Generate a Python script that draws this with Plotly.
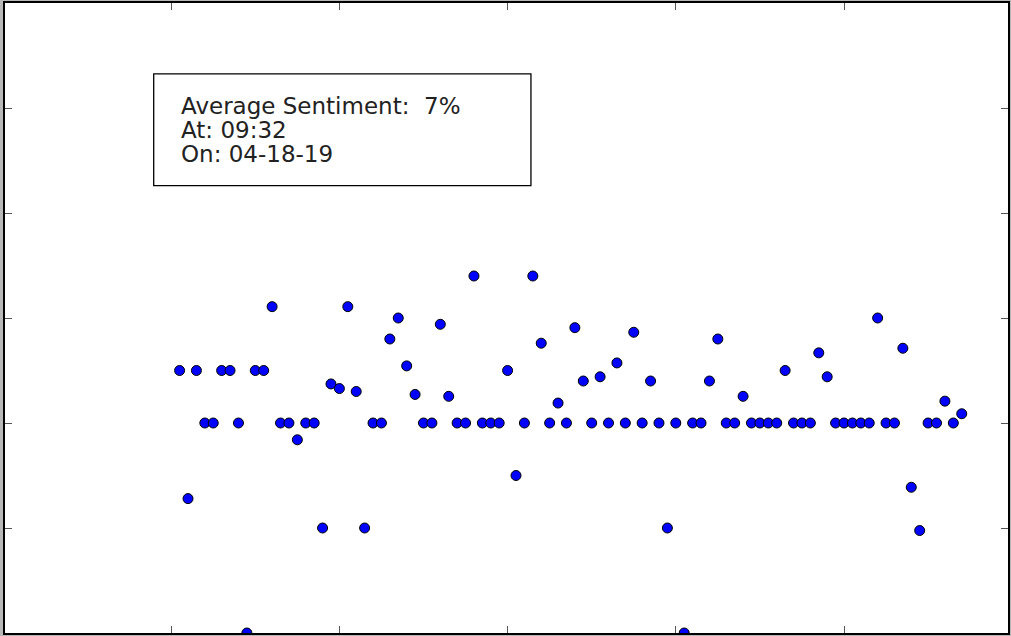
import plotly.graph_objects as go

# ---- data ----
sentiment = [
    0.125, -0.18, 0.125, 0, 0, 0.125, 0.125, 0, -0.5, 0.125,
    0.125, 0.277, 0, 0, -0.04, 0, 0, -0.25, 0.093, 0.082,
    0.277, 0.075, -0.25, 0, 0, 0.2, 0.25, 0.136, 0.068, 0,
    0, 0.235, 0.0635, 0, 0, 0.35, 0, 0, 0, 0.125,
    -0.125, 0, 0.35, 0.19, 0, 0.0475, 0, 0.227, 0.1, 0,
    0.11, 0, 0.143, 0, 0.216, 0, 0.1, 0, -0.25, 0,
    -0.5, 0, 0, 0.1, 0.2, 0, 0, 0.0635, 0, 0,
    0, 0, 0.125, 0, 0, 0, 0.167, 0.11, 0, 0,
    0, 0, 0, 0.25, 0, 0, 0.178, -0.153, -0.256, 0,
    0, 0.052, 0, 0.022,
]
tweet_index = list(range(1, len(sentiment) + 1))

info_lines = ["Average Sentiment:  7%", "At: 09:32", "On: 04-18-19"]
x_ticks = [0, 20, 40, 60, 80]
y_ticks = [-0.5, -0.25, 0, 0.25, 0.5, 0.75, 1.0]

# ---- layout geometry ----
W, H = 1011, 636
L, R, T, B = 5, 1, 2, 3
PW, PH = W - L - R, H - T - B


def px_to_paper_x(px):
    return (px - L) / PW


def px_to_paper_y(py):
    return (H - B - py) / PH


fig = go.Figure(
    go.Scatter(
        x=tweet_index,
        y=sentiment,
        mode="markers",
        cliponaxis=True,
        marker=dict(color="#0000ff", size=10, line=dict(color="black", width=1)),
        hoverinfo="x+y",
    )
)

axis_common = dict(
    showgrid=False,
    zeroline=False,
    showticklabels=False,
    ticks="inside",
    ticklen=7,
    tickwidth=1,
    tickcolor="#555555",
    showline=True,
    linecolor="black",
    linewidth=2,
    mirror="ticks",
)

fig.update_xaxes(range=[-19.76, 99.5], tickvals=x_ticks, **axis_common)
fig.update_yaxes(range=[-0.5, 1.0], tickvals=y_ticks, **axis_common)

# info box
fig.add_shape(
    type="rect",
    xref="paper", yref="paper",
    x0=px_to_paper_x(154), x1=px_to_paper_x(532),
    y0=px_to_paper_y(185), y1=px_to_paper_y(73),
    line=dict(color="black", width=1.3),
    fillcolor="white",
    layer="above",
)

line_centers = [105, 129, 153]
for txt, cy in zip(info_lines, line_centers):
    fig.add_annotation(
        text=txt,
        xref="paper", yref="paper",
        x=px_to_paper_x(179), y=px_to_paper_y(cy),
        xanchor="left", yanchor="middle",
        showarrow=False,
        font=dict(family="DejaVu Sans", size=23, color="#222222"),
    )

fig.update_layout(
    width=W, height=H,
    margin=dict(l=L, r=R, t=T, b=B, pad=0),
    paper_bgcolor="#b8b8b8",
    plot_bgcolor="white",
    showlegend=False,
)

fig.write_html(
    "out.html",
    config={"displayModeBar": False},
    post_script="document.body.style.margin='0';document.body.style.overflow='hidden';",
)
